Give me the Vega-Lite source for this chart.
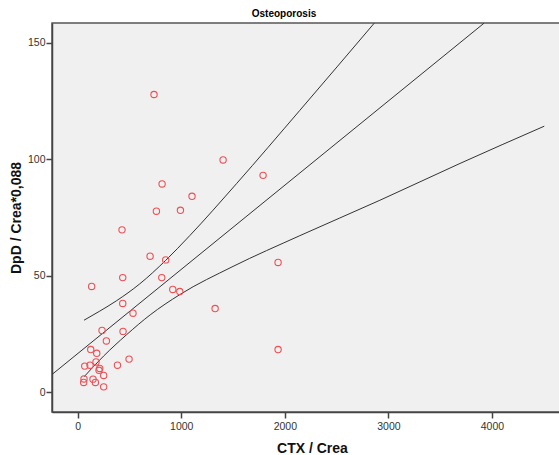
{
  "$schema": "https://vega.github.io/schema/vega-lite/v6.json",
  "width": 508,
  "height": 389,
  "autosize": {"type": "none"},
  "padding": {"left": 52, "top": 23, "right": 0, "bottom": 43},
  "background": "white",
  "title": {
    "text": "Osteoporosis",
    "fontSize": 10,
    "fontWeight": "bold",
    "font": "Liberation Sans",
    "color": "#000000",
    "anchor": "middle",
    "dx": -22,
    "offset": 4
  },
  "config": {
    "view": {"fill": "#F0F0F0", "stroke": "#555555", "strokeWidth": 1.5},
    "font": "Liberation Sans",
    "axis": {
      "grid": false,
      "domainColor": "#444444",
      "domainWidth": 1.5,
      "tickColor": "#444444",
      "tickWidth": 1.5,
      "tickSize": 6,
      "labelFont": "Liberation Sans",
      "labelFontSize": 10.5,
      "labelColor": "#333333",
      "titleFont": "Liberation Sans",
      "titleFontSize": 14,
      "titleFontWeight": "bold",
      "titleColor": "#111111"
    }
  },
  "datasets": {
    "pts": [
      {"ctx": 737, "dpd": 127.8},
      {"ctx": 1404, "dpd": 99.7},
      {"ctx": 1790, "dpd": 93.1},
      {"ctx": 815, "dpd": 89.4},
      {"ctx": 1104, "dpd": 84.1},
      {"ctx": 760, "dpd": 77.7},
      {"ctx": 992, "dpd": 78.1},
      {"ctx": 428, "dpd": 69.7},
      {"ctx": 699, "dpd": 58.4},
      {"ctx": 850, "dpd": 56.8},
      {"ctx": 435, "dpd": 49.2},
      {"ctx": 812, "dpd": 49.2},
      {"ctx": 135, "dpd": 45.4},
      {"ctx": 918, "dpd": 44.1},
      {"ctx": 986, "dpd": 43.2},
      {"ctx": 435, "dpd": 38.1},
      {"ctx": 534, "dpd": 33.9},
      {"ctx": 1327, "dpd": 35.9},
      {"ctx": 1935, "dpd": 55.7},
      {"ctx": 1935, "dpd": 18.3},
      {"ctx": 235, "dpd": 26.5},
      {"ctx": 438, "dpd": 26.1},
      {"ctx": 277, "dpd": 22.0},
      {"ctx": 126, "dpd": 18.3},
      {"ctx": 184, "dpd": 16.7},
      {"ctx": 496, "dpd": 14.2},
      {"ctx": 384, "dpd": 11.6},
      {"ctx": 177, "dpd": 13.0},
      {"ctx": 119, "dpd": 11.6},
      {"ctx": 68, "dpd": 11.2},
      {"ctx": 213, "dpd": 10.2},
      {"ctx": 206, "dpd": 9.4},
      {"ctx": 251, "dpd": 7.2},
      {"ctx": 61, "dpd": 5.7},
      {"ctx": 58, "dpd": 4.2},
      {"ctx": 148, "dpd": 5.6},
      {"ctx": 171, "dpd": 4.2},
      {"ctx": 251, "dpd": 2.3}
    ],
    "fits": [
      {"curve": "fit", "ctx": -248, "dpd": 7.6},
      {"curve": "fit", "ctx": 3923, "dpd": 158.4},
      {"curve": "upper", "ctx": 61, "dpd": 30.9},
      {"curve": "upper", "ctx": 213, "dpd": 34.8},
      {"curve": "upper", "ctx": 373, "dpd": 39.2},
      {"curve": "upper", "ctx": 599, "dpd": 46.5},
      {"curve": "upper", "ctx": 850, "dpd": 56.6},
      {"curve": "upper", "ctx": 1082, "dpd": 67.2},
      {"curve": "upper", "ctx": 1533, "dpd": 89.5},
      {"curve": "upper", "ctx": 2145, "dpd": 121.0},
      {"curve": "upper", "ctx": 2863, "dpd": 158.4},
      {"curve": "lower", "ctx": 61, "dpd": 6.6},
      {"curve": "lower", "ctx": 250, "dpd": 15.5},
      {"curve": "lower", "ctx": 470, "dpd": 24.6},
      {"curve": "lower", "ctx": 700, "dpd": 33.2},
      {"curve": "lower", "ctx": 986, "dpd": 41.9},
      {"curve": "lower", "ctx": 1500, "dpd": 54.0},
      {"curve": "lower", "ctx": 2145, "dpd": 67.2},
      {"curve": "lower", "ctx": 2918, "dpd": 82.4},
      {"curve": "lower", "ctx": 3691, "dpd": 98.2},
      {"curve": "lower", "ctx": 4505, "dpd": 114.2}
    ]
  },
  "encoding": {
    "x": {
      "field": "ctx",
      "type": "quantitative",
      "scale": {"domain": [-248, 4657], "nice": false, "zero": false},
      "axis": {"values": [0, 1000, 2000, 3000, 4000], "format": "d", "title": "CTX / Crea", "labelPadding": 3, "titlePadding": 10, "titleX": 260}
    },
    "y": {
      "field": "dpd",
      "type": "quantitative",
      "scale": {"domain": [-8.5, 158.5], "nice": false, "zero": false},
      "axis": {"values": [0, 50, 100, 150], "format": "d", "title": "DpD / Crea*0,088", "labelPadding": 1, "titlePadding": 4}
    }
  },
  "layer": [
    {
      "data": {"name": "fits"},
      "mark": {"type": "line", "color": "#333333", "strokeWidth": 1, "clip": true, "interpolate": "monotone"},
      "encoding": {"detail": {"field": "curve"}}
    },
    {
      "data": {"name": "pts"},
      "mark": {"type": "point", "shape": "circle", "filled": false, "color": "#EE4F55", "opacity": 1, "size": 40, "strokeWidth": 1.1, "clip": true}
    }
  ]
}
